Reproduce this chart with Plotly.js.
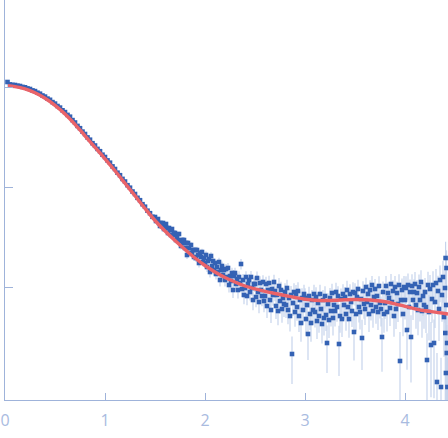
<!DOCTYPE html>
<html>
<head>
<meta charset="utf-8">
<script src="https://cdn.plot.ly/plotly-3.0.1.min.js"></script>
<style>html,body{margin:0;padding:0;background:#fff;}#chart{width:448px;height:438px;}</style>
</head>
<body>
<div id="chart"></div>
<script>
// scattering vector q (data points)
const q = [
0.025,0.05,0.075,0.1,0.125,0.15,0.175,0.2,0.225,0.25,
0.275,0.3,0.325,0.35,0.375,0.4,0.425,0.45,0.475,0.5,
0.525,0.55,0.575,0.6,0.625,0.65,0.675,0.7,0.725,0.75,
0.775,0.8,0.825,0.85,0.875,0.9,0.925,0.95,0.975,1.0,
1.025,1.05,1.075,1.1,1.125,1.15,1.175,1.2,1.225,1.25,
1.275,1.3,1.325,1.35,1.375,1.4,1.425,1.45,1.475,
1.50,1.51,1.52,1.53,1.54,1.55,1.56,1.57,1.58,1.59,
1.60,1.61,1.62,1.63,1.64,1.65,1.66,1.67,1.68,1.69,
1.70,1.71,1.72,1.73,1.74,1.75,1.76,1.77,1.78,1.79,
1.80,1.81,1.82,1.83,1.84,1.85,1.86,1.87,1.88,1.89,
1.90,1.91,1.92,1.93,1.94,1.95,1.96,1.97,1.98,1.99,
2.00,2.01,2.02,2.03,2.04,2.05,2.06,2.07,2.08,2.09,
2.10,2.11,2.12,2.13,2.14,2.15,2.16,2.17,2.18,2.19,
2.20,2.21,2.22,2.23,2.24,2.25,2.26,2.27,2.28,2.29,
2.30,2.31,2.32,2.33,2.34,2.35,2.36,2.37,2.38,2.39,
2.40,2.41,2.42,2.43,2.44,2.45,2.46,2.47,2.48,2.49,
2.50,2.51,2.52,2.53,2.54,2.55,2.56,2.57,2.58,2.59,
2.60,2.61,2.62,2.63,2.64,2.65,2.66,2.67,2.68,2.69,
2.70,2.71,2.72,2.73,2.74,2.75,2.76,2.77,2.78,2.79,
2.80,2.81,2.82,2.83,2.84,2.85,2.86,2.87,2.88,2.89,
2.90,2.91,2.92,2.93,2.94,2.95,2.96,2.97,2.98,2.99,
3.00,3.01,3.02,3.03,3.04,3.05,3.06,3.07,3.08,3.09,
3.10,3.11,3.12,3.13,3.14,3.15,3.16,3.17,3.18,3.19,
3.20,3.21,3.22,3.23,3.24,3.25,3.26,3.27,3.28,3.29,
3.30,3.31,3.32,3.33,3.34,3.35,3.36,3.37,3.38,3.39,
3.40,3.41,3.42,3.43,3.44,3.45,3.46,3.47,3.48,3.49,
3.50,3.51,3.52,3.53,3.54,3.55,3.56,3.57,3.58,3.59,
3.60,3.61,3.62,3.63,3.64,3.65,3.66,3.67,3.68,3.69,
3.70,3.71,3.72,3.73,3.74,3.75,3.76,3.77,3.78,3.79,
3.80,3.81,3.82,3.83,3.84,3.85,3.86,3.87,3.88,3.89,
3.90,3.91,3.92,3.93,3.94,3.95,3.96,3.97,3.98,3.99,
4.00,4.01,4.02,4.03,4.04,4.05,4.06,4.07,4.08,4.09,
4.10,4.11,4.12,4.13,4.14,4.15,4.16,4.17,4.18,4.19,
4.20,4.21,4.22,4.23,4.24,4.25,4.26,4.27,4.28,4.29,
4.30,4.31,4.32,4.33,4.34,4.35,4.36,4.37,4.38,4.39,
4.400,4.403,4.406,4.409,4.412,4.415,4.418,4.421,4.424
];

// log10 of measured intensity
const logIntensity = [
0.050,0.026,0.021,0.020,0.013,0.010,0.001,-0.003,-0.014,-0.020,
-0.034,-0.041,-0.057,-0.067,-0.085,-0.096,-0.116,-0.128,-0.151,-0.166,
-0.190,-0.206,-0.233,-0.251,-0.279,-0.297,-0.331,-0.355,-0.389,-0.412,
-0.446,-0.470,-0.504,-0.527,-0.562,-0.585,-0.619,-0.642,-0.677,-0.700,
-0.734,-0.757,-0.794,-0.820,-0.857,-0.882,-0.919,-0.945,-0.982,-1.007,
-1.045,-1.070,-1.108,-1.132,-1.172,-1.197,-1.237,-1.262,-1.298,
-1.30,-1.34,-1.33,-1.32,-1.36,-1.39,-1.36,-1.38,-1.36,-1.42,
-1.41,-1.37,-1.41,-1.46,-1.41,-1.43,-1.48,-1.42,-1.48,-1.46,
-1.46,-1.53,-1.49,-1.53,-1.47,-1.54,-1.59,-1.53,-1.56,-1.53,
-1.61,-1.56,-1.68,-1.56,-1.61,-1.66,-1.58,-1.66,-1.63,-1.70,
-1.63,-1.71,-1.63,-1.68,-1.76,-1.66,-1.70,-1.65,-1.75,-1.71,
-1.76,-1.68,-1.80,-1.74,-1.72,-1.85,-1.69,-1.79,-1.74,-1.83,
-1.76,-1.87,-1.80,-1.85,-1.75,-1.93,-1.83,-1.79,-1.88,-1.83,
-1.93,-1.82,-1.90,-1.81,-1.98,-1.89,-1.94,-1.86,-2.03,-1.89,
-1.86,-1.97,-1.92,-2.03,-1.90,-1.96,-1.77,-2.02,-1.93,-2.08,
-2.01,-1.90,-2.09,-1.97,-1.93,-2.05,-1.90,-2.01,-2.13,-1.97,
-1.97,-2.10,-1.91,-2.05,-2.15,-1.96,-2.03,-2.09,-1.95,-2.14,
-2.09,-1.97,-2.19,-2.03,-1.96,-2.13,-2.23,-2.02,-2.08,-1.95,
-2.04,-2.19,-2.08,-2.24,-1.99,-2.14,-2.03,-2.22,-2.11,-2.17,
-2.05,-2.18,-2.01,-2.23,-2.11,-2.29,-2.08,-2.67,-2.16,-2.05,
-2.25,-2.07,-2.20,-2.04,-2.29,-2.13,-2.36,-2.11,-2.23,-2.07,
-2.11,-2.32,-2.18,-2.47,-2.09,-2.27,-2.36,-2.13,-2.23,-2.07,
-2.25,-2.10,-2.34,-2.16,-2.29,-2.07,-2.22,-2.37,-2.13,-2.31,
-2.09,-2.28,-2.56,-2.17,-2.33,-2.11,-2.24,-2.06,-2.31,-2.18,
-2.24,-2.05,-2.20,-2.09,-2.57,-2.29,-2.12,-2.32,-2.07,-2.18,
-2.10,-2.27,-2.03,-2.20,-2.32,-2.07,-2.15,-2.24,-2.05,-2.45,
-2.06,-2.27,-2.10,-2.02,-2.20,-2.25,-2.12,-2.51,-2.04,-2.17,
-2.22,-2.00,-2.15,-2.07,-2.27,-2.03,-2.18,-1.98,-2.24,-2.10,
-2.02,-2.20,-2.09,-2.25,-1.99,-2.16,-2.22,-2.50,-2.05,-2.27,
-2.16,-1.99,-2.25,-2.06,-2.11,-2.21,-1.97,-2.15,-2.04,-2.29,
-2.00,-2.22,-2.06,-2.17,-1.98,-2.74,-2.13,-2.03,-2.27,-2.00,
-2.13,-2.01,-2.43,-1.98,-2.20,-2.05,-2.50,-1.99,-2.13,-2.05,
-1.97,-2.18,-2.06,-2.23,-2.00,-2.13,-1.95,-2.24,-2.09,-2.18,
-2.05,-2.20,-2.73,-1.98,-2.25,-2.02,-2.58,-2.12,-1.98,-2.56,
-2.15,-1.96,-2.95,-2.04,-2.22,-1.93,-3.00,-2.08,-1.90,-2.30,
-2.01,-2.46,-1.71,-2.86,-2.18,-1.81,-2.66,-2.56,-3.00
];

// relative error (sigma / I)
const relErr = [
0.03,0.012,0.01,0.01,0.01,0.01,0.01,0.01,0.01,0.01,
0.01,0.01,0.01,0.01,0.01,0.01,0.01,0.01,0.01,0.01,
0.01,0.01,0.01,0.01,0.01,0.01,0.012,0.012,0.012,0.012,
0.012,0.012,0.012,0.012,0.014,0.014,0.014,0.014,0.014,0.015,
0.015,0.015,0.016,0.016,0.017,0.017,0.018,0.018,0.019,0.02,
0.02,0.021,0.022,0.023,0.024,0.025,0.027,0.03,0.032,
0.04,0.05,0.04,0.05,0.05,0.06,0.05,0.05,0.04,0.06,
0.05,0.05,0.06,0.06,0.05,0.06,0.07,0.05,0.06,0.06,
0.06,0.07,0.06,0.07,0.06,0.07,0.08,0.07,0.07,0.07,
0.08,0.07,0.09,0.07,0.08,0.08,0.07,0.09,0.08,0.09,
0.08,0.09,0.08,0.09,0.10,0.08,0.09,0.08,0.10,0.09,
0.10,0.09,0.11,0.10,0.09,0.12,0.09,0.11,0.10,0.12,
0.10,0.12,0.11,0.12,0.10,0.14,0.11,0.11,0.13,0.12,
0.14,0.12,0.13,0.12,0.16,0.13,0.15,0.13,0.17,0.14,
0.13,0.16,0.15,0.18,0.14,0.16,0.12,0.17,0.15,0.19,
0.17,0.14,0.19,0.16,0.15,0.18,0.15,0.17,0.21,0.16,
0.17,0.21,0.16,0.19,0.23,0.17,0.19,0.21,0.17,0.23,
0.21,0.18,0.24,0.20,0.18,0.23,0.26,0.20,0.22,0.18,
0.21,0.26,0.22,0.28,0.20,0.25,0.21,0.27,0.24,0.26,
0.22,0.26,0.21,0.28,0.24,0.30,0.23,0.50,0.26,0.22,
0.29,0.23,0.27,0.22,0.31,0.25,0.35,0.25,0.29,0.24,
0.25,0.32,0.27,0.45,0.24,0.31,0.35,0.26,0.29,0.24,
0.30,0.25,0.34,0.27,0.32,0.24,0.29,0.36,0.26,0.33,
0.25,0.31,0.50,0.28,0.34,0.26,0.30,0.24,0.33,0.28,
0.30,0.24,0.29,0.25,0.52,0.32,0.27,0.34,0.25,0.29,
0.26,0.32,0.24,0.29,0.35,0.25,0.28,0.31,0.25,0.48,
0.25,0.33,0.27,0.24,0.30,0.33,0.28,0.52,0.25,0.29,
0.31,0.24,0.29,0.26,0.34,0.25,0.30,0.23,0.32,0.27,
0.26,0.32,0.28,0.34,0.25,0.30,0.33,0.55,0.27,0.35,
0.31,0.26,0.36,0.28,0.30,0.34,0.26,0.31,0.28,0.38,
0.29,0.37,0.30,0.34,0.28,0.95,0.33,0.30,0.40,0.29,
0.36,0.31,0.60,0.30,0.40,0.33,0.65,0.31,0.37,0.34,
0.32,0.42,0.35,0.44,0.33,0.39,0.31,0.46,0.37,0.42,
0.38,0.45,0.85,0.36,0.48,0.38,0.70,0.42,0.37,0.72,
0.45,0.38,0.95,0.42,0.52,0.40,0.96,0.46,0.45,0.60,
0.55,0.80,0.45,0.95,0.70,0.50,0.90,0.85,0.97
];

// model fit
const qFit = [0.03,0.1,0.2,0.3,0.4,0.5,0.6,0.7,0.8,0.9,1.0,1.1,1.2,1.3,1.4,1.5,1.6,1.7,1.8,1.9,2.0,2.1,2.2,2.3,2.4,2.5,2.6,2.7,2.8,2.9,3.0,3.1,3.2,3.3,3.4,3.5,3.6,3.7,3.8,3.9,4.0,4.1,4.2,4.3,4.4,4.43];
const logFit = [0.012,0.004,-0.019,-0.058,-0.113,-0.183,-0.269,-0.373,-0.488,-0.603,-0.718,-0.838,-0.963,-1.088,-1.215,-1.335,-1.44,-1.535,-1.625,-1.71,-1.785,-1.85,-1.905,-1.95,-1.99,-2.018,-2.043,-2.065,-2.085,-2.105,-2.123,-2.133,-2.135,-2.133,-2.128,-2.125,-2.128,-2.135,-2.148,-2.168,-2.193,-2.218,-2.238,-2.251,-2.265,-2.27];

const xTicks = [0, 1, 2, 3, 4];
const xTickText = ['0', '1', '2', '3', '4'];
const yTicks = [-2, -1, 0];

const errUp = relErr.map(r => Math.log10(1 + r));
const errDown = relErr.map(r => r < 0.99 ? -Math.log10(1 - r) : 5);

const axisCol = '#9fb3da';
const data = [
  {
    x: q, y: logIntensity, type: 'scatter', mode: 'markers',
    marker: {symbol: 'square', size: 4.6, color: '#3462b4'},
    error_y: {type: 'data', symmetric: false, array: errUp, arrayminus: errDown,
              color: '#c6d4ec', thickness: 1.2, width: 0},
    hoverinfo: 'x+y', showlegend: false
  },
  {
    x: qFit, y: logFit, type: 'scatter', mode: 'lines',
    line: {color: 'rgb(234,99,104)', width: 3.4, shape: 'spline'},
    showlegend: false
  }
];

const layout = {
  width: 448, height: 438,
  margin: {l: 5, r: 0, t: 0, b: 38, pad: 0},
  paper_bgcolor: '#ffffff', plot_bgcolor: '#ffffff',
  showlegend: false,
  xaxis: {
    range: [0, 4.43], tickvals: xTicks, ticktext: xTickText,
    ticks: 'inside', ticklen: 7, tickcolor: axisCol, tickwidth: 1,
    showline: true, linecolor: axisCol, linewidth: 1,
    showgrid: false, zeroline: false,
    ticklabelstandoff: 6,
    tickfont: {family: 'Open Sans, sans-serif', size: 16, color: '#a9bbdf'}
  },
  yaxis: {
    range: [-3.13, 0.87], tickvals: yTicks,
    ticks: 'inside', ticklen: 8, tickcolor: axisCol, tickwidth: 1,
    showticklabels: false,
    showline: true, linecolor: axisCol, linewidth: 1,
    showgrid: false, zeroline: false
  }
};

Plotly.newPlot('chart', data, layout, {displayModeBar: false, staticPlot: true});
</script>
</body>
</html>
